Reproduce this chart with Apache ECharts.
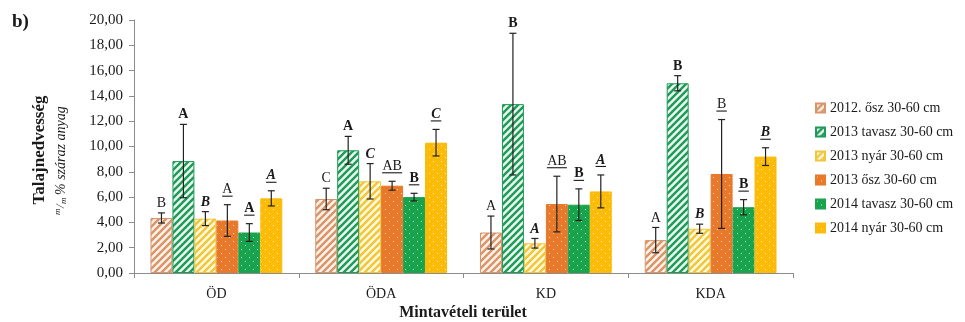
<!DOCTYPE html>
<html>
<head>
<meta charset="utf-8">
<script src="https://cdn.jsdelivr.net/npm/echarts@6/dist/echarts.min.js"></script>
<style>
  html, body { margin: 0; padding: 0; background: #fff; }
  #chart { width: 965px; height: 322px; }
</style>
</head>
<body>
<div id="chart"></div>
<script>
// Sampling sites
const categories = ['ÖD', 'ÖDA', 'KD', 'KDA'];

// Series names (sampling season, depth 30-60 cm)
const seriesNames = [
  '2012. ősz 30-60 cm',
  '2013 tavasz 30-60 cm',
  '2013 nyár 30-60 cm',
  '2013 ősz 30-60 cm',
  '2014 tavasz 30-60 cm',
  '2014 nyár 30-60 cm'
];

// Mean soil moisture (m/m %), one value per site
const osz2012 = [4.35, 5.85, 3.20, 2.60];
const tavasz2013 = [8.85, 9.70, 13.35, 15.00];
const nyar2013 = [4.30, 7.25, 2.35, 3.50];
const osz2013 = [4.15, 6.90, 5.45, 7.83];
const tavasz2014 = [3.20, 6.00, 5.40, 5.20];
const nyar2014 = [5.90, 10.30, 6.45, 9.20];

// Standard deviations
const osz2012Err = [0.40, 0.85, 1.30, 1.00];
const tavasz2013Err = [2.90, 1.10, 5.60, 0.60];
const nyar2013Err = [0.55, 1.40, 0.38, 0.36];
const osz2013Err = [1.25, 0.35, 2.20, 4.30];
const tavasz2014Err = [0.70, 0.30, 1.25, 0.60];
const nyar2014Err = [0.60, 1.05, 1.30, 0.70];

// Significance letters
const osz2012Letters = ['B', 'C', 'A', 'A'];
const tavasz2013Letters = ['A', 'A', 'B', 'B'];
const nyar2013Letters = ['B', 'C', 'A', 'B'];
const osz2013Letters = ['A', 'AB', 'AB', 'B'];
const tavasz2014Letters = ['A', 'B', 'B', 'B'];
const nyar2014Letters = ['A', 'C', 'A', 'B'];

// Y axis ticks
const yMin = 0, yMax = 20, yStep = 2;

const values = [osz2012, tavasz2013, nyar2013, osz2013, tavasz2014, nyar2014];
const errors = [osz2012Err, tavasz2013Err, nyar2013Err, osz2013Err, tavasz2014Err, nyar2014Err];
const letters = [osz2012Letters, tavasz2013Letters, nyar2013Letters, osz2013Letters, tavasz2014Letters, nyar2014Letters];

const SERIF = '"Liberation Serif", "Times New Roman", serif';
const TEXT = '#1a1a1a';

// Letter styles per series: weight, italic, underline
const letterStyles = [
  { weight: 'normal', style: 'normal', underline: false },
  { weight: 'bold', style: 'normal', underline: false },
  { weight: 'bold', style: 'italic', underline: false },
  { weight: 'normal', style: 'normal', underline: true },
  { weight: 'bold', style: 'normal', underline: true },
  { weight: 'bold', style: 'italic', underline: true }
];

// Fill patterns
function hatch(stripe, bg) {
  const s = 7;
  const c = document.createElement('canvas');
  c.width = s; c.height = s;
  const g = c.getContext('2d');
  g.fillStyle = bg; g.fillRect(0, 0, s, s);
  g.strokeStyle = stripe; g.lineWidth = 2.4;
  g.beginPath();
  g.moveTo(-1, s + 1); g.lineTo(s + 1, -1);
  g.moveTo(-1, 1); g.lineTo(1, -1);
  g.moveTo(s - 1, s + 1); g.lineTo(s + 1, s - 1);
  g.stroke();
  return { image: c, repeat: 'repeat' };
}
function dots(fill) {
  const s = 8;
  const c = document.createElement('canvas');
  c.width = s; c.height = s;
  const g = c.getContext('2d');
  g.fillStyle = fill; g.fillRect(0, 0, s, s);
  g.fillStyle = 'rgba(255,255,255,0.75)';
  g.fillRect(1, 1, 1, 1);
  g.fillRect(5, 5, 1, 1);
  return { image: c, repeat: 'repeat' };
}

const fills = [
  hatch('#d8956a', '#fdf1e8'),
  hatch('#1f9a58', '#e8f8ef'),
  hatch('#f0c63a', '#fff9dc'),
  dots('#e8782a'),
  dots('#19a34c'),
  dots('#fbbb06')
];
const borders = ['#d8956a', '#1f9a58', '#f0c63a', '#e8782a', '#19a34c', '#fbbb06'];

const NS = seriesNames.length;
const CAT_GAP = 0.2;

const barSeries = seriesNames.map((name, i) => ({
  name: name,
  type: 'bar',
  barGap: '0%',
  barCategoryGap: (CAT_GAP * 100) + '%',
  data: values[i],
  itemStyle: { color: fills[i], borderColor: borders[i], borderWidth: 1 },
  emphasis: { disabled: true },
  z: 2
}));

// Error bars and significance letters drawn over each bar
const errSeries = seriesNames.map((name, i) => ({
  name: 'err' + i,
  type: 'custom',
  z: 5,
  data: values[i].map((v, k) => [k, v, errors[i][k]]),
  renderItem: function (params, api) {
    const cat = api.value(0), mean = api.value(1), sd = api.value(2);
    const band = api.size([1, 0])[0];
    const bw = band * (1 - CAT_GAP) / NS;
    const cx = api.coord([cat, 0])[0] + (i - (NS - 1) / 2) * bw;
    const yTop = api.coord([cat, mean + sd])[1];
    const yBot = api.coord([cat, mean - sd])[1];
    const cap = 3.5;
    const st = letterStyles[i];
    const txt = letters[i][params.dataIndex];
    const lineStyle = { stroke: '#222', lineWidth: 1.2 };
    const children = [
      { type: 'line', shape: { x1: cx, y1: yTop, x2: cx, y2: yBot }, style: lineStyle },
      { type: 'line', shape: { x1: cx - cap, y1: yTop, x2: cx + cap, y2: yTop }, style: lineStyle },
      { type: 'line', shape: { x1: cx - cap, y1: yBot, x2: cx + cap, y2: yBot }, style: lineStyle }
    ];
    const textBottom = st.underline ? yTop - 8 : yTop - 2.5;
    children.push({
      type: 'text',
      x: cx, y: textBottom,
      style: {
        text: txt, fill: TEXT, font: st.style + ' ' + st.weight + ' 14px ' + SERIF,
        align: 'center', verticalAlign: 'bottom'
      }
    });
    if (st.underline) {
      const w = txt.length * 9.5 + 1;
      children.push({
        type: 'line',
        shape: { x1: cx - w / 2, y1: yTop - 8.5, x2: cx + w / 2, y2: yTop - 8.5 },
        style: { stroke: TEXT, lineWidth: 1.1 }
      });
    }
    return { type: 'group', children: children };
  }
}));

const chart = echarts.init(document.getElementById('chart'), null, { renderer: 'canvas' });
chart.setOption({
  animation: false,
  backgroundColor: '#ffffff',
  grid: { left: 134, right: 172, top: 20, bottom: 49, containLabel: false },
  legend: {
    data: seriesNames,
    orient: 'vertical',
    left: 810, top: 96,
    itemWidth: 9, itemHeight: 9, itemGap: 10,
    icon: 'rect',
    selectedMode: false,
    textStyle: { fontFamily: SERIF, fontSize: 14, color: TEXT, padding: [0, 0, 0, 0] }
  },
  xAxis: {
    type: 'category',
    data: categories,
    axisLine: { lineStyle: { color: '#8c8c8c', width: 1 } },
    axisTick: { show: true, length: 5, lineStyle: { color: '#8c8c8c' } },
    axisLabel: { fontFamily: SERIF, fontSize: 14, color: TEXT, margin: 14 }
  },
  yAxis: {
    type: 'value',
    min: yMin, max: yMax, interval: yStep,
    axisLine: { show: true, lineStyle: { color: '#8c8c8c', width: 1 } },
    axisTick: { show: true, length: 5, lineStyle: { color: '#8c8c8c' } },
    splitLine: { show: false },
    axisLabel: {
      fontFamily: SERIF, fontSize: 15, color: TEXT, margin: 11,
      formatter: v => v.toFixed(2).replace('.', ',')
    }
  },
  graphic: [
    {
      type: 'text', left: 12, top: 13,
      style: { text: 'b)', font: 'bold 19px ' + SERIF, fill: TEXT }
    },
    {
      type: 'text', x: 40, y: 150, rotation: Math.PI / 2,
      style: { text: 'Talajnedvesség', font: 'bold 17px ' + SERIF, fill: TEXT, align: 'center', verticalAlign: 'middle' }
    },
    {
      type: 'group', x: 61, y: 153, rotation: Math.PI / 2,
      children: [
        { type: 'text', x: -62, y: -3, style: { text: 'm', font: 'italic 9px ' + SERIF, fill: TEXT, align: 'left', verticalAlign: 'middle' } },
        { type: 'text', x: -55, y: 0, style: { text: '/', font: 'italic 13px ' + SERIF, fill: TEXT, align: 'left', verticalAlign: 'middle' } },
        { type: 'text', x: -51, y: 3, style: { text: 'm', font: 'italic 9px ' + SERIF, fill: TEXT, align: 'left', verticalAlign: 'middle' } },
        { type: 'text', x: -42, y: 0, style: { text: '% száraz anyag', font: 'italic 14px ' + SERIF, fill: TEXT, align: 'left', verticalAlign: 'middle' } }
      ]
    },
    {
      type: 'text', x: 463, y: 313,
      style: { text: 'Mintavételi terület', font: 'bold 16px ' + SERIF, fill: TEXT, align: 'center', verticalAlign: 'middle' }
    }
  ],
  series: barSeries.concat(errSeries)
});
</script>
</body>
</html>
